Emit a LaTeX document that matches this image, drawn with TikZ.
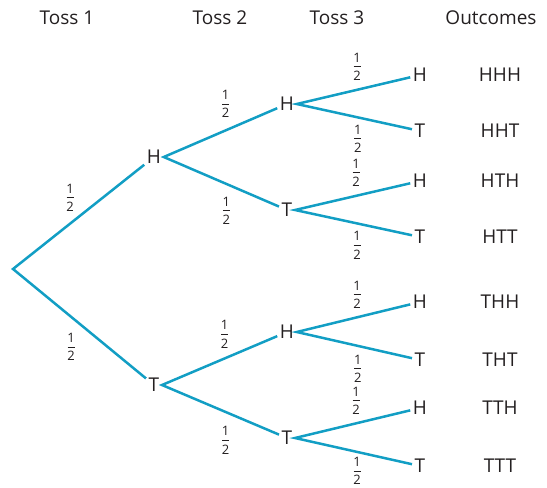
\documentclass[tikz,border=0pt]{standalone}
\usepackage{fontspec}
\setmainfont{Open Sans}
\usepackage{tikz}
\usetikzlibrary{positioning}
\definecolor{branchblue}{RGB}{18,158,196}
\definecolor{inkgrey}{RGB}{35,31,32}
\newcommand{\half}{\vbox{\offinterlineskip\halign{\hfil##\hfil\cr 1\cr\noalign{\vskip4pt}\rule{7pt}{1pt}\cr\noalign{\vskip4pt}2\cr}}}

\begin{document}
\begin{tikzpicture}[x=1pt, y=-1pt, font=\fontsize{19}{22}\selectfont, text=inkgrey, line width=2.5pt,
    main/.style = {inner sep=1.5pt},
    branch/.style = {draw=branchblue, line join=miter},
    prob/.style = {inner sep=0pt, midway, font=\fontsize{13}{15}\selectfont}]
            \useasboundingbox (0,0) rectangle (547,488);
            \node (toss1) at (67,18) {Toss 1};
            \node (toss2) at (220,18) {Toss 2};
            \node (toss3) at (337,18) {Toss 3};
            \node (outc) at (491,18) {Outcomes};
            \coordinate (r) at (13,269);
            \node[main] (h) at (154,157) {H};
            \node[main] (t) at (154,385) {T};
            \node[main] (hh) at (287,104) {H};
            \node[main] (ht) at (287,210) {T};
            \node[main] (th) at (287,332) {H};
            \node[main] (tt) at (287,438) {T};
            \node[main] (hhh) at (420,75) {H};
            \node[main] (hht) at (420,131) {T};
            \node[main] (hth) at (420,181) {H};
            \node[main] (htt) at (420,237) {T};
            \node[main] (thh) at (420,302) {H};
            \node[main] (tht) at (420,360) {T};
            \node[main] (tth) at (420,408) {H};
            \node[main] (ttt) at (420,466) {T};
            \node (o1) at (500,75) {HHH};
            \node (o2) at (500,131) {HHT};
            \node (o3) at (500,181) {HTH};
            \node (o4) at (500,237) {HTT};
            \node (o5) at (500,302) {THH};
            \node (o6) at (500,360) {THT};
            \node (o7) at (500,408) {TTH};
            \node (o8) at (500,466) {TTT};
            \draw[branch] (h) -- (r) -- (t);
            \path (r) -- node[prob, above left=3.8pt and 3.5pt] {\half} (h);
            \path (r) -- node[prob, below left=8.3pt and 3.5pt] {\half} (t);
            \draw[branch] (hh) -- (h.east) -- (ht);
            \path (h) -- node[prob, above=11.3pt, xshift=5pt] {\half} (hh);
            \path (h) -- node[prob, below=11.8pt, xshift=5pt] {\half} (ht);
            \draw[branch] (th) -- (t.east) -- (tt);
            \path (t) -- node[prob, above=9.3pt, xshift=5pt] {\half} (th);
            \path (t) -- node[prob, below=13.8pt, xshift=5pt] {\half} (tt);
            \draw[branch] (hhh) -- (hh.east) -- (hht);
            \path (hh) -- node[prob, above=7.8pt, xshift=3.5pt] {\half} (hhh);
            \path (hh) -- node[prob, below=5.8pt, xshift=3.5pt] {\half} (hht);
            \draw[branch] (hth) -- (ht.east) -- (htt);
            \path (ht) -- node[prob, above=7.8pt, xshift=3.5pt] {\half} (hth);
            \path (ht) -- node[prob, below=6.8pt, xshift=3.5pt] {\half} (htt);
            \draw[branch] (thh) -- (th.east) -- (tht);
            \path (th) -- node[prob, above=7.3pt, xshift=3.5pt] {\half} (thh);
            \path (th) -- node[prob, below=7.3pt, xshift=3.5pt] {\half} (tht);
            \draw[branch] (tth) -- (tt.east) -- (ttt);
            \path (tt) -- node[prob, above=7.3pt, xshift=3.5pt] {\half} (tth);
            \path (tt) -- node[prob, below=4pt, xshift=3.5pt] {\half} (ttt);
        \end{tikzpicture}
\end{document}
